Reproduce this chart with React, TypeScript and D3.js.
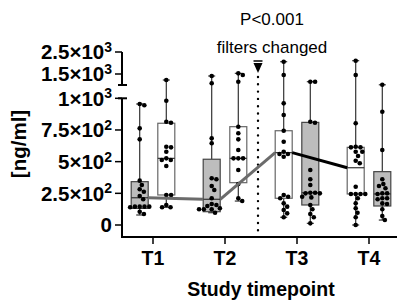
import React from "react";
import * as d3 from "d3";

const timepoints = ["T1", "T2", "T3", "T4"];
// which box comes first (left) at each timepoint
const grayLeft = [true, true, false, false];

const grayQ1 = [131, 105, 158, 150];
const grayMedian = [215, 203, 255, 245];
const grayQ3 = [342, 519, 810, 421];
const grayMin = [79, 97, 13, 39];
const grayMax = [955, 1409, 1150, 1010];

const whiteQ1 = [237, 334, 211, 245];
const whiteMedian = [526, 526, 571, 452];
const whiteQ3 = [803, 776, 744, 613];
const whiteMin = [140, 189, 61, 0];
const whiteMax = [1227, 1530, 2059, 2105];

const grayT1 = [955, 945, 763, 676, 350, 316, 282, 263, 229, 203, 145, 140, 145, 145, 145, 105, 87];
const grayT2 = [1409, 1077, 684, 645, 369, 361, 308, 276, 211, 166, 158, 150, 132, 124, 124, 124, 97];
const grayT3 = [1150, 1150, 815, 807, 434, 361, 316, 255, 250, 250, 255, 223, 218, 158, 124, 87, 61, 13];
const grayT4 = [1010, 894, 592, 361, 324, 308, 290, 250, 245, 250, 211, 203, 211, 171, 166, 124, 71, 39];

const whiteT1 = [1227, 981, 815, 807, 618, 613, 578, 526, 513, 513, 466, 237, 237, 158, 140, 140];
const whiteT2 = [1530, 1455, 1150, 776, 724, 676, 592, 526, 526, 526, 434, 324, 211, 189];
const whiteT3 = [2059, 1455, 960, 868, 744, 657, 578, 560, 560, 539, 237, 223, 211, 171, 145, 118, 92, 61];
const whiteT4 = [2105, 1455, 803, 618, 613, 613, 578, 578, 545, 507, 487, 302, 245, 245, 245, 245, 211, 171, 132, 97, 61, 0];

const grayPoints = [grayT1, grayT2, grayT3, grayT4];
const whitePoints = [whiteT1, whiteT2, whiteT3, whiteT4];

const tickValues = [0, 250, 500, 750, 1000, 1500, 2500];
const tickMantissa = ["0", "2.5", "5", "7.5", "1", "1.5", "2.5"];
const tickExponent = ["", "2", "2", "2", "3", "3", "3"];

const FONT = "'Liberation Sans', Arial, sans-serif";

const xBand = d3.scaleBand<string>().domain(timepoints).range([117, 405]);
const yLower = d3.scaleLinear().domain([0, 1000]).range([225, 98.3]);
const yUpper = d3.scaleLinear().domain([1000, 2600]).range([85, 49.8]);
const y = (v: number) => (v > 1000 ? yUpper(v) : yLower(v));

const OFFSET = 13.3;
const BOXW = 17;
const R = 2.3;

function swarm(values: number[], cx: number) {
  const D = 2 * R + 0.2;
  const pts = values.map((v) => ({ v, py: y(v) })).sort((a, b) => a.py - b.py);
  const placed: { x: number; y: number }[] = [];
  for (const p of pts) {
    const cands = [0];
    for (const q of placed) {
      const dy = Math.abs(q.y - p.py);
      if (dy < D) {
        const dx = Math.sqrt(D * D - dy * dy);
        cands.push(q.x + dx, q.x - dx);
      }
    }
    cands.sort((a, b) => Math.abs(a) - Math.abs(b));
    let chosen = 0;
    for (const c of cands) {
      const ok = placed.every((q) => (q.x - c) ** 2 + (q.y - p.py) ** 2 >= D * D - 0.01);
      if (ok) {
        chosen = c;
        break;
      }
    }
    placed.push({ x: chosen, y: p.py });
  }
  return placed.map((p) => ({ x: cx + p.x, y: p.y }));
}

function Box({ cx, q1, med, q3, lo, hi, gray, pts }: any) {
  const x0 = cx - BOXW / 2;
  const dots = swarm(pts, cx);
  return (
    <g>
      <line x1={cx} x2={cx} y1={y(q3)} y2={y(hi)} stroke="#333" strokeWidth={1.2} />
      <line x1={cx} x2={cx} y1={y(q1)} y2={y(lo)} stroke="#333" strokeWidth={1.2} />
      <line x1={cx - 3.5} x2={cx + 3.5} y1={y(hi)} y2={y(hi)} stroke="#333" strokeWidth={1.2} />
      <line x1={cx - 3.5} x2={cx + 3.5} y1={y(lo)} y2={y(lo)} stroke="#333" strokeWidth={1.2} />
      <rect
        x={x0}
        y={y(q3)}
        width={BOXW}
        height={y(q1) - y(q3)}
        fill={gray ? "#bdbdbd" : "#ffffff"}
        stroke={gray ? "#444" : "#666"}
        strokeWidth={1.2}
      />
      <line x1={x0} x2={x0 + BOXW} y1={y(med)} y2={y(med)} stroke="#333" strokeWidth={1.2} />
      {dots.map((d, i) => (
        <circle key={i} cx={d.x} cy={d.y} r={R} fill="#000" />
      ))}
    </g>
  );
}

export default function App() {
  const boxes: any[] = [];
  const trend: { left: number; right: number; y: number }[] = [];
  timepoints.forEach((t, i) => {
    const c = (xBand(t) as number) + xBand.bandwidth() / 2;
    const gx = grayLeft[i] ? c - OFFSET : c + OFFSET;
    const wx = grayLeft[i] ? c + OFFSET : c - OFFSET;
    const trendX = grayLeft[i] ? gx : wx;
    const trendMed = grayLeft[i] ? grayMedian[i] : whiteMedian[i];
    trend.push({ left: trendX - BOXW / 2, right: trendX + BOXW / 2, y: y(trendMed) });
    boxes.push(
      <Box key={"g" + i} cx={gx} q1={grayQ1[i]} med={grayMedian[i]} q3={grayQ3[i]} lo={grayMin[i]} hi={grayMax[i]} gray pts={grayPoints[i]} />
    );
    boxes.push(
      <Box key={"w" + i} cx={wx} q1={whiteQ1[i]} med={whiteMedian[i]} q3={whiteQ3[i]} lo={whiteMin[i]} hi={whiteMax[i]} gray={false} pts={whitePoints[i]} />
    );
  });
  const lineColors = ["#6b6b6b", "#6b6b6b", "#000"];
  const dividerX = 258;
  const axisX = 122;
  const axisY = 237;
  return (
    <svg width={398} height={306} style={{ position: "absolute", left: 0, top: 0 }} fontFamily={FONT}>
      <rect width={398} height={306} fill="#fff" />
      {/* y axis segments */}
      <line x1={axisX} x2={axisX} y1={yLower(1000)} y2={axisY + 1} stroke="#000" strokeWidth={2} />
      <line x1={axisX - 4} x2={axisX + 5} y1={yLower(1000)} y2={yLower(1000)} stroke="#000" strokeWidth={2} />
      <line x1={axisX} x2={axisX} y1={yUpper(2500)} y2={yUpper(1000)} stroke="#000" strokeWidth={2} />
      <line x1={axisX - 4} x2={axisX + 5} y1={yUpper(1000)} y2={yUpper(1000)} stroke="#000" strokeWidth={2} />
      {tickValues.map((v, i) => (
        <g key={v}>
          <line x1={axisX - 7} x2={axisX} y1={y(v)} y2={y(v)} stroke="#000" strokeWidth={1.5} />
          <text x={112} y={y(v)} dy="0.36em" textAnchor="end" fontWeight="bold" fontSize={20.5}>
            {tickMantissa[i]}
            {tickExponent[i] ? "×10" : ""}
            {tickExponent[i] ? (
              <tspan dy={-7.5} fontSize={14}>
                {tickExponent[i]}
              </tspan>
            ) : null}
          </text>
        </g>
      ))}
      {/* x axis */}
      <line x1={axisX - 1} x2={397} y1={axisY} y2={axisY} stroke="#000" strokeWidth={2} />
      {timepoints.map((t) => {
        const c = (xBand(t) as number) + xBand.bandwidth() / 2;
        return (
          <g key={t}>
            <line x1={c} x2={c} y1={axisY} y2={axisY + 7} stroke="#000" strokeWidth={1.5} />
            <text x={c} y={265} textAnchor="middle" fontWeight="bold" fontSize={19.5}>
              {t}
            </text>
          </g>
        );
      })}
      {/* divider */}
      <line x1={dividerX} x2={dividerX} y1={77} y2={234} stroke="#000" strokeWidth={2.4} strokeDasharray="0 7.3" strokeLinecap="round" />
      <line x1={dividerX - 4.5} x2={dividerX + 4.5} y1={61} y2={61} stroke="#000" strokeWidth={1.5} />
      <path d={`M${dividerX - 4.5},63 L${dividerX + 4.5},63 L${dividerX},73 Z`} fill="#000" />
      {boxes}
      {/* trend line */}
      {trend.slice(0, -1).map((p, i) => (
        <line key={i} x1={p.right} y1={p.y} x2={trend[i + 1].left} y2={trend[i + 1].y} stroke={lineColors[i]} strokeWidth={3} />
      ))}
      <text x={272} y={25} textAnchor="middle" fontSize={17}>
        P&lt;0.001
      </text>
      <text x={272} y={53} textAnchor="middle" fontSize={17}>
        filters changed
      </text>
      <text transform="translate(26,144) rotate(-90)" textAnchor="middle" fontWeight="bold" fontSize={20.5}>
        [ng/ml]
      </text>
      <text x={261} y={296} textAnchor="middle" fontWeight="bold" fontSize={19.5}>
        Study timepoint
      </text>
    </svg>
  );
}
